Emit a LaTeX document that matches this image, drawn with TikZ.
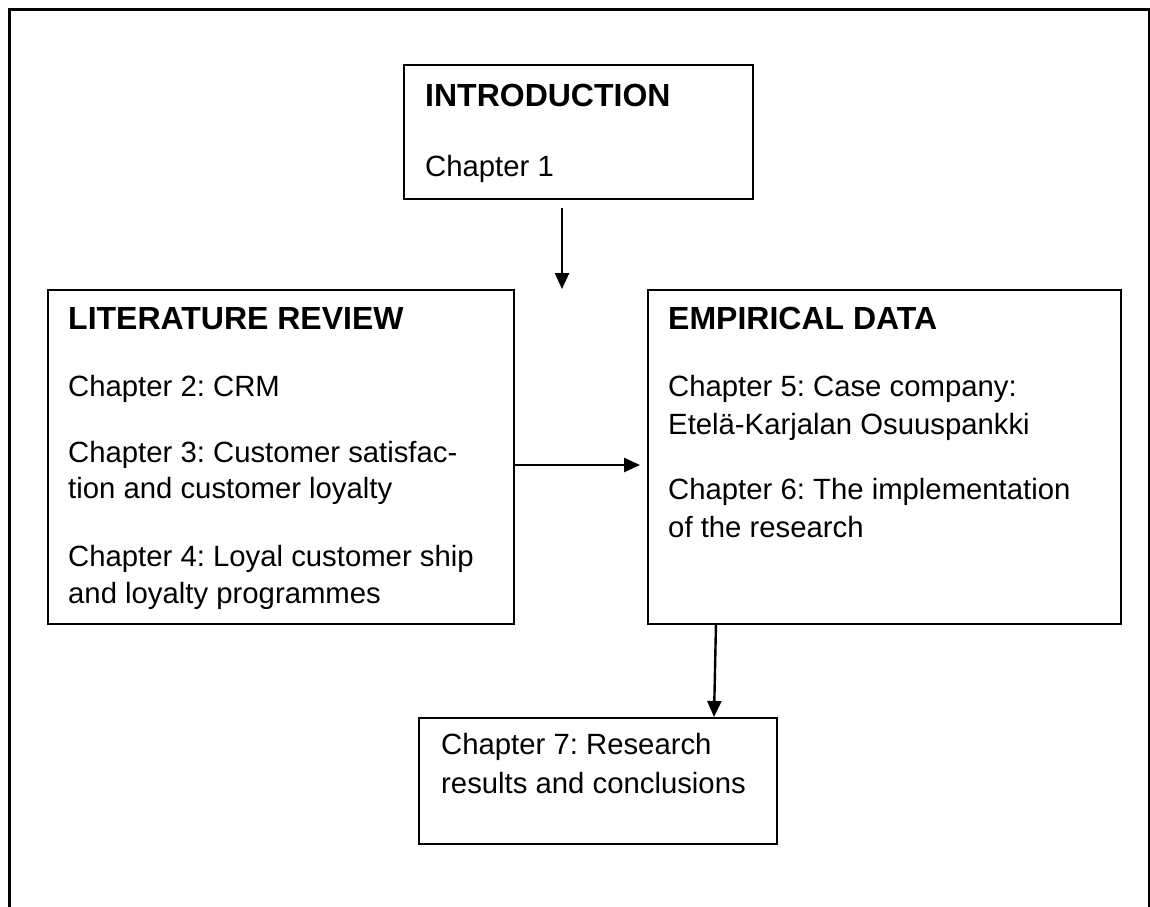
\documentclass[tikz,border=0pt]{standalone}
\usepackage{fontspec}
\setmainfont{Liberation Sans}
\usetikzlibrary{arrows.meta}
\frenchspacing
\begin{document}
\begin{tikzpicture}[x=1pt,y=-1pt,
  box/.style={draw=black, line width=2.4pt, anchor=north west, inner sep=0pt},
  ttl/.style={anchor=base west, inner sep=0pt, font=\fontsize{32}{36}\selectfont\bfseries},
  txt/.style={anchor=base west, inner sep=0pt, font=\fontsize{29.3}{36}\selectfont},
  arr/.style={line width=2.4pt, -{Triangle[length=16pt,width=14pt]}}]
\useasboundingbox (0,0) rectangle (1150,906);
% outer frame (bottom edge lies beyond the picture)
\draw[line width=3pt] (9,912) -- (9,9) -- (1149,9) -- (1149,912);
% boxes
\node[box, minimum width=349pt, minimum height=134pt] (intro) at (403,64) {};
\node[box, minimum width=466pt, minimum height=334pt] (lit) at (47,289) {};
\node[box, minimum width=473pt, minimum height=334pt] (emp) at (647,289) {};
\node[box, minimum width=358pt, minimum height=126pt] (ch7) at (418,717) {};
% texts
\node[ttl] (i1) at (425,106) {INTRODUCTION};
\node[txt] (i2) at (425,176) {Chapter 1};
\node[ttl] (l1) at (68,329) {LITERATURE REVIEW};
\node[txt] (l2) at (68,396) {Chapter 2: CRM};
\node[txt] (l3) at (68,462) {Chapter 3: Customer satisfac-};
\node[txt] (l4) at (68,498) {tion and customer loyalty};
\node[txt] (l5) at (68,566) {Chapter 4: Loyal customer ship};
\node[txt] (l6) at (68,603) {and loyalty programmes};
\node[ttl] (e1) at (668,329) {EMPIRICAL DATA};
\node[txt] (e2) at (668,396) {Chapter 5: Case company:};
\node[txt] (e3) at (668,434) {Etelä-Karjalan Osuuspankki};
\node[txt] (e4) at (668,499) {Chapter 6: The implementation};
\node[txt] (e5) at (668,537) {of the research};
\node[txt] (c1) at (441,754) {Chapter 7: Research};
\node[txt] (c2) at (441,793) {results and conclusions};
% connectors
\coordinate (a1s) at (562,208);
\coordinate (a1e) at (562,289);
\draw[arr] (a1s) -- (a1e);
\coordinate (a2e) at (640,465);
\draw[arr] (lit.east |- a2e) -- (a2e);
\coordinate (a3s) at (716,623);
\coordinate (a3e) at (714,717);
\draw[arr] (a3s) -- (a3e);
\end{tikzpicture}
\end{document}
